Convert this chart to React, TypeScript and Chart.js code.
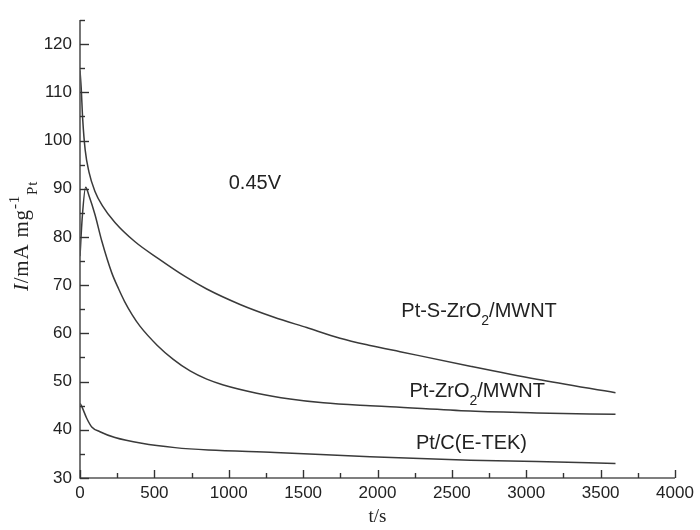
import React, { useEffect, useRef } from 'react';
import { Chart, registerables } from 'chart.js';

Chart.register(...registerables);

// ---- Data ----
const tPtSZrO2 = [0, 8, 18, 35, 60, 100, 150, 235, 370, 527, 706, 852, 1076, 1300, 1524, 1748, 1950, 2152, 2623, 3071, 3600];
const iPtSZrO2 = [114.5, 111, 104.5, 98, 93.5, 89.5, 86.5, 83, 79, 75.5, 71.8, 69.2, 66, 63.4, 61.2, 59, 57.5, 56.2, 53.2, 50.5, 47.7];

const tPtZrO2 = [0, 15, 38, 60, 101, 146, 213, 260, 300, 350, 403, 520, 627, 740, 852, 964, 1188, 1412, 1636, 1950, 2085, 2623, 3071, 3600];
const iPtZrO2 = [76, 84, 90.3, 88.6, 84.6, 79.2, 72.6, 69.2, 66.6, 63.9, 61.5, 57.5, 54.6, 52.2, 50.5, 49.3, 47.6, 46.4, 45.6, 45.0, 44.8, 43.9, 43.5, 43.2];

const tPtC = [0, 11, 45, 79, 134, 235, 415, 639, 863, 1311, 1950, 2623, 3071, 3600];
const iPtC = [45.5, 44.9, 42.4, 40.6, 39.6, 38.4, 37.2, 36.3, 35.8, 35.3, 34.4, 33.7, 33.4, 33.0];

const seriesNames = ['Pt-S-ZrO2/MWNT', 'Pt-ZrO2/MWNT', 'Pt/C(E-TEK)'];

const X_MIN = 0;
const X_MAX = 4000;
const X_STEP = 500;
const Y_MIN = 30;
const Y_MAX = 125;
const Y_STEP = 10;

const xTitle = 't/s';
const potentialLabel = '0.45V';

type Part = { text: string; mode?: 'sub' | 'sup'; italic?: boolean };

// annotation anchors in data units (t, I) : left/baseline of the text
const annotations: { parts: Part[]; t: number; v: number }[] = [
  { parts: [{ text: potentialLabel }], t: 1000, v: 90 },
  { parts: [{ text: 'Pt-S-ZrO' }, { text: '2', mode: 'sub' }, { text: '/MWNT' }], t: 2160, v: 63.3 },
  { parts: [{ text: 'Pt-ZrO' }, { text: '2', mode: 'sub' }, { text: '/MWNT' }], t: 2215, v: 46.8 },
  { parts: [{ text: 'Pt/C(E-TEK)' }], t: 2258, v: 36.0 },
];

const yTitleParts: Part[] = [
  { text: 'I', italic: true },
  { text: '/mA mg' },
  { text: '-1', mode: 'sup' },
  { text: 'Pt', mode: 'sub' },
];

const SANS = '"Liberation Sans", Arial, sans-serif';
const SERIF = '"Liberation Serif", "Times New Roman", serif';
const LINE_COLOR = '#3a3a3a';
const AXIS_COLOR = '#555555';
const TEXT_COLOR = '#222222';

function drawParts(
  ctx: CanvasRenderingContext2D,
  parts: Part[],
  x: number,
  y: number,
  size: number,
  family: string,
  spacing = 0,
  subDy = 0.4,
  supDy = 0.42
) {
  let cx = x;
  for (const p of parts) {
    const small = p.mode === 'sub' || p.mode === 'sup';
    const fs = small ? Math.round(size * 0.7) : size;
    ctx.font = `${p.italic ? 'italic ' : ''}${fs}px ${family}`;
    const dy = p.mode === 'sub' ? size * subDy : p.mode === 'sup' ? -size * supDy : 0;
    let w = 0;
    for (const ch of p.text) {
      ctx.fillText(ch, cx + w, y + dy);
      w += ctx.measureText(ch).width + spacing;
    }
    cx += w;
  }
  return cx - x;
}

function measureParts(ctx: CanvasRenderingContext2D, parts: Part[], size: number, family: string, spacing = 0) {
  let w = 0;
  for (const p of parts) {
    const small = p.mode === 'sub' || p.mode === 'sup';
    const fs = small ? Math.round(size * 0.7) : size;
    ctx.font = `${p.italic ? 'italic ' : ''}${fs}px ${family}`;
    for (const ch of p.text) w += ctx.measureText(ch).width + spacing;
  }
  return w;
}

const decorPlugin = {
  id: 'decor',
  afterDatasetsDraw(chart: any) {
    const { ctx, chartArea: ca, scales } = chart;
    const xs = scales.x;
    const ys = scales.y;
    ctx.save();
    // axes
    ctx.strokeStyle = AXIS_COLOR;
    ctx.lineWidth = 1.6;
    ctx.beginPath();
    ctx.moveTo(ca.left, ca.top);
    ctx.lineTo(ca.left, ca.bottom);
    ctx.lineTo(ca.right, ca.bottom);
    ctx.stroke();
    // y ticks (inward), major every 10, minor every 5
    ctx.lineWidth = 1.4;
    ctx.strokeStyle = '#333';
    for (let v = Y_MIN; v <= Y_MAX + 0.001; v += Y_STEP / 2) {
      const py = Math.round(ys.getPixelForValue(v)) + 0.5;
      const len = v % Y_STEP === 0 ? 9 : 5;
      ctx.beginPath();
      ctx.moveTo(ca.left, py);
      ctx.lineTo(ca.left + len, py);
      ctx.stroke();
    }
    // x ticks (inward), major every 500, minor every 250
    for (let t = X_MIN; t <= X_MAX + 0.001; t += X_STEP / 2) {
      const px = Math.round(xs.getPixelForValue(t)) + 0.5;
      const len = t % X_STEP === 0 ? 8 : 5;
      ctx.beginPath();
      ctx.moveTo(px, ca.bottom);
      ctx.lineTo(px, ca.bottom - len);
      ctx.stroke();
    }

    ctx.fillStyle = TEXT_COLOR;
    ctx.textBaseline = 'alphabetic';
    ctx.textAlign = 'left';
    // annotations
    for (const a of annotations) {
      drawParts(ctx, a.parts, xs.getPixelForValue(a.t), ys.getPixelForValue(a.v), 20, SANS);
    }

    // x title
    ctx.font = `19px ${SERIF}`;
    ctx.textAlign = 'center';
    ctx.fillText(xTitle, (ca.left + ca.right) / 2, 522);
    ctx.textAlign = 'left';

    // y title (rotated)
    const size = 21;
    const spacing = 0.8;
    const w = measureParts(ctx, yTitleParts, size, SERIF, spacing);
    const cy = 236;
    ctx.translate(28, cy);
    ctx.rotate(-Math.PI / 2);
    drawParts(ctx, yTitleParts, -w / 2, 0, size, SERIF, spacing, 0.45, 0.45);
    ctx.restore();
  },
};

export default function App() {
  const ref = useRef<HTMLCanvasElement | null>(null);

  useEffect(() => {
    if (!ref.current) return;
    const mk = (ts: number[], vs: number[]) => ts.map((t, i) => ({ x: t, y: vs[i] }));
    const ds = (label: string, data: { x: number; y: number }[]) => ({
      label,
      data,
      borderColor: LINE_COLOR,
      borderWidth: 1.5,
      pointRadius: 0,
      fill: false,
      tension: 0.4,
      cubicInterpolationMode: 'monotone' as const,
    });
    const chart = new Chart(ref.current, {
      type: 'line',
      data: {
        datasets: [
          ds(seriesNames[0], mk(tPtSZrO2, iPtSZrO2)),
          ds(seriesNames[1], mk(tPtZrO2, iPtZrO2)),
          ds(seriesNames[2], mk(tPtC, iPtC)),
        ],
      },
      options: {
        responsive: false,
        animation: false,
        devicePixelRatio: 1,
        layout: { padding: { top: 20, right: 25, left: 0, bottom: 0 } },
        plugins: { legend: { display: false }, tooltip: { enabled: false } },
        scales: {
          x: {
            type: 'linear',
            min: X_MIN,
            max: X_MAX,
            grid: { display: false, drawTicks: false },
            border: { display: false },
            ticks: {
              stepSize: X_STEP,
              padding: 5,
              maxRotation: 0,
              color: TEXT_COLOR,
              font: { size: 17, family: SANS },
              callback: (v: any) => String(v),
            },
            afterFit: (s: any) => {
              s.height = 52;
            },
          },
          y: {
            type: 'linear',
            min: Y_MIN,
            max: Y_MAX,
            grid: { display: false, drawTicks: false },
            border: { display: false },
            ticks: {
              stepSize: Y_STEP,
              padding: 8,
              color: TEXT_COLOR,
              font: { size: 17, family: SANS },
              callback: (v: any) => String(v),
            },
            afterBuildTicks: (s: any) => {
              s.ticks = s.ticks.filter((t: any) => t.value % Y_STEP === 0);
            },
            afterFit: (s: any) => {
              s.width = 80;
            },
          },
        },
      },
      plugins: [decorPlugin],
    });
    return () => chart.destroy();
  }, []);

  return (
    <div style={{ position: 'fixed', left: 0, top: 0, width: 700, height: 530, background: '#fff' }}>
      <canvas ref={ref} width={700} height={530} />
    </div>
  );
}
